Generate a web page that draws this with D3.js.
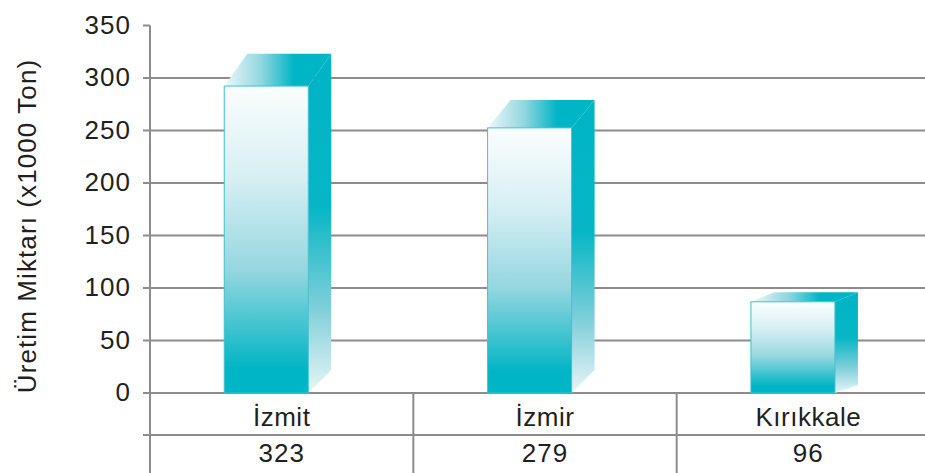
<!DOCTYPE html>
<html>
<head>
<meta charset="utf-8">
<script src="https://cdn.jsdelivr.net/npm/d3@7"></script>
<style>
  body { margin: 0; background: #fff; }
  text { font-family: "Liberation Sans", Arial, sans-serif; fill: #231f20; }
</style>
</head>
<body>
<div id="my_dataviz"></div>
<script>
// data
const cities = ["İzmit", "İzmir", "Kırıkkale"];
const production = [323, 279, 96];
const yTicks = [0, 50, 100, 150, 200, 250, 300, 350];

const width = 925, height = 473;
const y0 = 393, rowLine = 435;

const svg = d3.select("#my_dataviz")
  .append("svg")
    .attr("width", width)
    .attr("height", height);

const defs = svg.append("defs");
function grad(id, x2, y2, stops) {
  const g = defs.append("linearGradient").attr("id", id)
    .attr("x1", 0).attr("y1", 0).attr("x2", x2).attr("y2", y2);
  stops.forEach(s => g.append("stop").attr("offset", s[0]).attr("stop-color", s[1]));
}
grad("front", 0, 1, [[0, "#fbfefe"], [0.3, "#d6eff3"], [0.6, "#95d7e0"], [0.85, "#22bccb"], [0.92, "#00b5c5"], [1, "#00b5c5"]]);
grad("side", 0, 1, [[0, "#00b4c5"], [0.45, "#06b6c6"], [0.75, "#7fcfd9"], [1, "#e8f5f7"]]);
grad("top", 1, 0, [[0, "#eef8fa"], [0.35, "#8fd6df"], [0.65, "#00b5c5"], [1, "#00b5c5"]]);

// scales
const x = d3.scaleBand()
  .domain(cities)
  .range([150, 940]);

const y = d3.scaleLinear()
  .domain([0, 350])
  .range([y0, 25.5]);

const grey = "#8c8c8c";

// gridlines (350 only gets a tick)
svg.append("g")
  .selectAll("line")
  .data(yTicks)
  .join("line")
    .attr("x1", 143)
    .attr("x2", d => d === 350 ? 150 : width)
    .attr("y1", d => y(d))
    .attr("y2", d => y(d))
    .attr("stroke", grey)
    .attr("stroke-width", 2);

// table row separator
svg.append("line")
  .attr("x1", 143).attr("x2", width)
  .attr("y1", rowLine).attr("y2", rowLine)
  .attr("stroke", grey).attr("stroke-width", 2);

// y axis line
svg.append("line")
  .attr("x1", 150).attr("x2", 150)
  .attr("y1", y(350)).attr("y2", height)
  .attr("stroke", grey).attr("stroke-width", 2);

// column separators in the table
svg.append("g")
  .selectAll("line")
  .data(cities.slice(1))
  .join("line")
    .attr("x1", d => x(d)).attr("x2", d => x(d))
    .attr("y1", y0).attr("y2", height)
    .attr("stroke", grey).attr("stroke-width", 2);

// tick labels
svg.append("g")
  .selectAll("text")
  .data(yTicks)
  .join("text")
    .attr("x", 131)
    .attr("y", d => y(d))
    .attr("dy", "0.32em")
    .attr("text-anchor", "end")
    .attr("font-size", 26)
    .attr("letter-spacing", 1)
    .text(d => d);

// axis title
svg.append("text")
  .attr("transform", "translate(36,226) rotate(-90)")
  .attr("text-anchor", "middle")
  .attr("font-size", 26)
  .attr("letter-spacing", 1.1)
  .text("Üretim Miktarı (x1000 Ton)");

// 3d bars
const frontW = 84, dx = 23, frontRatio = 0.905;
const bars = svg.append("g")
  .selectAll("g")
  .data(cities.map((c, i) => ({city: c, value: production[i]})))
  .join("g");

bars.each(function(d) {
  const g = d3.select(this);
  const xl = x(d.city) + x.bandwidth() * 0.282;
  const xr = xl + frontW;
  const yBack = y(d.value);
  const yFront = y(d.value * frontRatio);
  const hb = Math.min(dx, (y0 - yBack) * 0.08);

  g.append("polygon")
    .attr("points", [[xr, yFront], [xr + dx, yBack], [xr + dx, y0 - hb], [xr, y0]].join(" "))
    .attr("fill", "url(#side)");
  g.append("polygon")
    .attr("points", [[xl, yFront], [xr, yFront], [xr + dx, yBack], [xl + dx, yBack]].join(" "))
    .attr("fill", "url(#top)");
  g.append("rect")
    .attr("x", xl).attr("y", yFront)
    .attr("width", frontW).attr("height", y0 - yFront)
    .attr("fill", "url(#front)")
    .attr("stroke", "#3cc3cf").attr("stroke-width", 1);
});

// table text
svg.append("g")
  .selectAll("text")
  .data(cities)
  .join("text")
    .attr("x", d => x(d) + x.bandwidth() / 2)
    .attr("y", 426)
    .attr("text-anchor", "middle")
    .attr("font-size", 26)
    .attr("letter-spacing", 0.5)
    .text(d => d);

svg.append("g")
  .selectAll("text")
  .data(production)
  .join("text")
    .attr("x", (d, i) => x(cities[i]) + x.bandwidth() / 2)
    .attr("y", 462)
    .attr("text-anchor", "middle")
    .attr("font-size", 26)
    .attr("letter-spacing", 1)
    .text(d => d);
</script>
</body>
</html>
